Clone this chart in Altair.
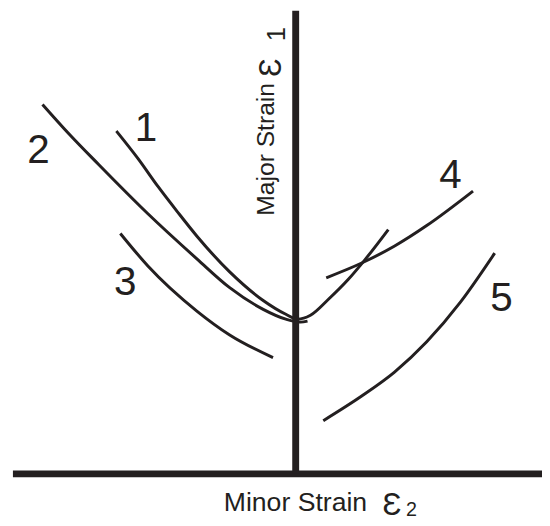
import altair as alt
import pandas as pd

# Curves (minor strain x, major strain y, arbitrary units)
c1_x = [-182, -160, -140, -120, -100, -67, -33, -10, 2, 15, 33, 53, 70, 94]
c1_y = [348, 320, 292, 266, 241, 205, 176, 162, 157, 161, 177, 197, 217, 248]
c2_x = [-257, -230, -200, -150, -100, -67, -33, -10, 5, 12]
c2_y = [375, 345, 314, 264, 218, 189, 167, 157, 154, 155]
c3_x = [-178, -150, -100, -67, -23]
c3_y = [244, 211, 165, 141, 118]
c4_x = [31, 67, 100, 133, 180]
c4_y = [199, 214, 231, 252, 287]
c5_x = [28, 67, 100, 133, 167, 202]
c5_y = [54, 79, 103, 134, 174, 224]

curve_names = ["1", "2", "3", "4", "5"]
label_x = [-152, -261, -173, 157, 209]
label_y = [350, 328, 194, 302, 177]

x_axis_extent = [-287, 250]
y_axis_extent = [0, 470]

rows = []
for name, xs, ys in zip(curve_names, [c1_x, c2_x, c3_x, c4_x, c5_x],
                        [c1_y, c2_y, c3_y, c4_y, c5_y]):
    for i, (a, b) in enumerate(zip(xs, ys)):
        rows.append({"curve": name, "order": i, "x": a, "y": b})
df = pd.DataFrame(rows)
labels = pd.DataFrame({"x": label_x, "y": label_y, "text": curve_names})

xs = alt.Scale(domain=[-292, 250], nice=False, zero=False)
ys = alt.Scale(domain=[-45, 469], nice=False, zero=False)
X = lambda f: alt.X(f, type="quantitative", scale=xs, axis=None)
Y = lambda f: alt.Y(f, type="quantitative", scale=ys, axis=None)

INK = "#231f20"
FONT = "Liberation Sans"

curves = alt.Chart(df).mark_line(
    interpolate="monotone", color=INK, strokeWidth=3
).encode(x=X("x"), y=Y("y"), detail="curve:N", order="order:Q")

hline = alt.Chart(pd.DataFrame({"x": [x_axis_extent[0]], "x2": [x_axis_extent[1]], "y": [0]})).mark_rule(
    color=INK, strokeWidth=7, strokeCap="butt"
).encode(x=X("x"), x2="x2:Q", y=Y("y"))

vline = alt.Chart(pd.DataFrame({"x": [0], "y": [y_axis_extent[0]], "y2": [y_axis_extent[1]]})).mark_rule(
    color=INK, strokeWidth=7, strokeCap="butt"
).encode(x=X("x"), y=Y("y"), y2="y2:Q")

nums = alt.Chart(labels).mark_text(
    font=FONT, fontSize=41, color=INK, align="center", baseline="middle"
).encode(x=X("x"), y=Y("y"), text="text:N")

bottom_title = pd.DataFrame({
    "x": [-73, 88, 112], "y": [-38, -42, -43],
    "text": ["Minor Strain", "Ɛ", "2"], "size": [27, 32, 20],
})
vert_title = pd.DataFrame({
    "x": [-22, -15, -11], "y": [262, 403, 439],
    "text": ["Major Strain", "Ɛ", "1"], "size": [25, 31, 26],
})

bl = []
for _, r in bottom_title.iterrows():
    bl.append(alt.Chart(pd.DataFrame([r])).mark_text(
        font=FONT, color=INK, align="left", baseline="alphabetic", fontSize=int(r["size"])
    ).encode(x=X("x"), y=Y("y"), text="text:N"))
vl = []
for _, r in vert_title.iterrows():
    vl.append(alt.Chart(pd.DataFrame([r])).mark_text(
        font=FONT, color=INK, align="left", baseline="alphabetic", angle=270,
        fontSize=int(r["size"])
    ).encode(x=X("x"), y=Y("y"), text="text:N"))

chart = alt.layer(curves, hline, vline, nums, *bl, *vl).properties(
    width=542, height=514, padding=0, autosize="none", background="white"
).configure_view(stroke=None)

chart.save("out.html", embed_options={"renderer": "svg", "actions": False})
